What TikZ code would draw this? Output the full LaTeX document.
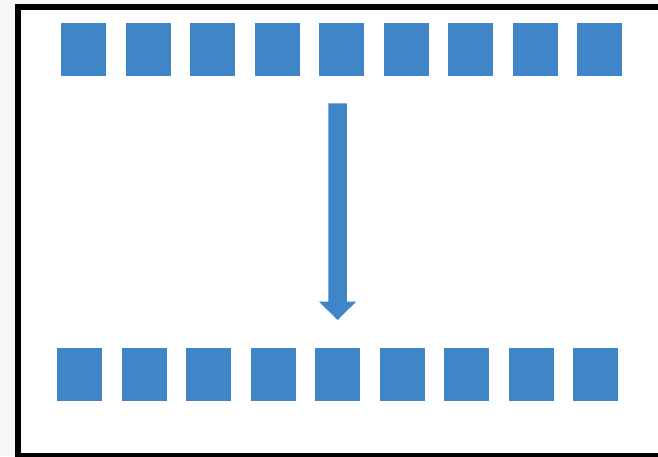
\documentclass[tikz,border=0pt]{standalone}
\definecolor{boxblue}{RGB}{63,133,199}
\definecolor{outsidegray}{RGB}{247,247,247}
\tikzset{
  sq/.style={fill=boxblue, minimum width=45pt, minimum height=53pt, inner sep=0pt, outer sep=0pt},
  frame/.style={draw=black, line width=6pt, fill=white}
}
\begin{document}
\begin{tikzpicture}[x=1pt,y=-1pt]
\useasboundingbox (0,0) rectangle (658,456);
\fill[outsidegray] (0,0) rectangle (658,456);
\begin{scope}
\clip (0,0) rectangle (658,456);
\draw[frame] (17.5,7) rectangle (664,456);
\end{scope}
\foreach \i in {0,...,8}{
  \node[sq] (t\i) at ({83.5+64.5*\i},49.5) {};
  \node[sq] (b\i) at ({79.5+64.5*\i},374.5) {};
}
\coordinate (arrowtop) at (337.6,103.3);
\coordinate (arrowtip) at (337.6,320);
\fill[boxblue] ([xshift=-9.3pt]arrowtop) -- ([xshift=9.3pt]arrowtop)
  -- ([xshift=9.3pt,yshift=18.3pt]arrowtip) -- ([xshift=18.5pt,yshift=18.3pt]arrowtip)
  -- (arrowtip) -- ([xshift=-18.5pt,yshift=18.3pt]arrowtip)
  -- ([xshift=-9.3pt,yshift=18.3pt]arrowtip) -- cycle;
\end{tikzpicture}
\end{document}
